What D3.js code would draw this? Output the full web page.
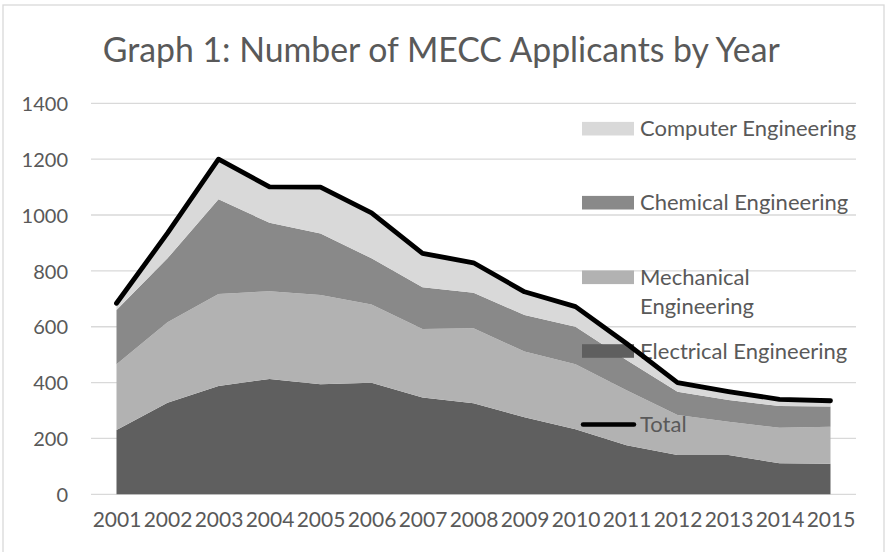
<!DOCTYPE html>
<html>
<head>
<meta charset="utf-8">
<script src="https://cdn.jsdelivr.net/npm/d3@7/dist/d3.min.js"></script>
<style>
  html, body { margin: 0; padding: 0; background: #fff; }
  svg { display: block; }
  text { font-family: Lato, "Open Sans", sans-serif; fill: #595959; }
</style>
</head>
<body>
<svg id="chart" width="887" height="552"></svg>
<script>
// ---- data ----
const years = ["2001","2002","2003","2004","2005","2006","2007","2008","2009","2010","2011","2012","2013","2014","2015"];
const electrical = [230, 328, 388, 413, 394, 399, 347, 326, 276, 233, 176, 141, 141, 111, 109];
const mechanical = [236, 288, 329, 314, 320, 281, 245, 269, 235, 233, 197, 143, 119, 127, 133];
const chemical   = [194, 229, 339, 245, 220, 165, 149, 127, 131, 134, 108,  83,  78,  78,  72];
const computer   = [ 24,  90, 144, 129, 166, 163, 122, 107,  83,  72,  59,  33,  30,  24,  21];
const total      = [684, 935, 1200, 1101, 1100, 1008, 863, 829, 725, 672, 540, 400, 368, 340, 335];
const yTicks = [0, 200, 400, 600, 800, 1000, 1200, 1400];
const seriesNames = ["Electrical Engineering", "Mechanical Engineering", "Chemical Engineering", "Computer Engineering"];
const seriesColors = ["#5f5f5f", "#b2b2b2", "#898989", "#d9d9d9"];
const titleText = "Graph 1: Number of MECC Applicants by Year";

// ---- layout ----
const W = 887, H = 552;
const plot = { left: 91, right: 856, top: 103.3, bottom: 494.3 };
const svg = d3.select("#chart");

svg.append("rect").attr("x", 0).attr("y", 0).attr("width", W).attr("height", H).attr("fill", "#fff");
svg.append("rect").attr("x", 3).attr("y", 5).attr("width", 881).attr("height", 600)
  .attr("fill", "none").attr("stroke", "#d9d9d9").attr("stroke-width", 1.3);

const x = d3.scalePoint().domain(years).range([plot.left, plot.right]).padding(0.5);
const y = d3.scaleLinear().domain([0, 1400]).range([plot.bottom, plot.top]);

// gridlines
svg.append("g").selectAll("line").data(yTicks).join("line")
  .attr("x1", plot.left).attr("x2", plot.right)
  .attr("y1", d => y(d)).attr("y2", d => y(d))
  .attr("stroke", "#d9d9d9").attr("stroke-width", 1.3);

// y axis labels
const yAxis = d3.axisLeft(y).tickValues(yTicks).tickSize(0).tickPadding(0).tickFormat(d3.format("d"));
const gy = svg.append("g").attr("transform", `translate(68,0)`).call(yAxis);
gy.select(".domain").remove();
gy.selectAll("text").style("font-size", "20px").attr("fill", "#595959").attr("dy", "0.36em");

// x axis labels
const xAxis = d3.axisBottom(x).tickSize(0).tickPadding(0);
const gx = svg.append("g").attr("transform", `translate(0,526.5)`).call(xAxis);
gx.select(".domain").remove();
gx.selectAll("text").style("font-size", "21px").attr("fill", "#595959").attr("dy", "0");

// stacked areas
const table = years.map((yr, i) => ({
  year: yr,
  [seriesNames[0]]: electrical[i],
  [seriesNames[1]]: mechanical[i],
  [seriesNames[2]]: chemical[i],
  [seriesNames[3]]: computer[i]
}));
const stacked = d3.stack().keys(seriesNames)(table);
const area = d3.area()
  .x(d => x(d.data.year))
  .y0(d => y(d[0]))
  .y1(d => y(d[1]));
svg.append("g").selectAll("path").data(stacked).join("path")
  .attr("d", area)
  .attr("fill", (d, i) => seriesColors[i]);

// legend
const legendItems = [
  { lines: ["Computer Engineering"], color: seriesColors[3], type: "box" },
  { lines: ["Chemical Engineering"], color: seriesColors[2], type: "box" },
  { lines: ["Mechanical", "Engineering"], color: seriesColors[1], type: "box" },
  { lines: ["Electrical Engineering"], color: seriesColors[0], type: "box" },
  { lines: ["Total"], color: "#000", type: "line" }
];
const legendY = [128.7, 202.7, 277.3, 351, 424.5];
const lg = svg.append("g");
legendItems.forEach((it, i) => {
  const cy = legendY[i];
  if (it.type === "box") {
    lg.append("rect").attr("x", 582).attr("y", cy - 6.8).attr("width", 52).attr("height", 13.6).attr("fill", it.color);
  } else {
    lg.append("line").attr("x1", 583).attr("x2", 634).attr("y1", cy).attr("y2", cy)
      .attr("stroke", it.color).attr("stroke-width", 4.5).attr("stroke-linecap", "round");
  }
  const t = lg.append("text").attr("x", 640).attr("y", cy + 7.6).style("font-size", "22px");
  it.lines.forEach((ln, j) => {
    t.append("tspan").attr("x", 640).attr("dy", j === 0 ? 0 : 28.7).text(ln);
  });
});

// total line
const line = d3.line().x((d, i) => x(years[i])).y(d => y(d));
svg.append("path").datum(total).attr("d", line)
  .attr("fill", "none").attr("stroke", "#000").attr("stroke-width", 4.8)
  .attr("stroke-linejoin", "round").attr("stroke-linecap", "round");

// title
svg.append("text").attr("x", 441.3).attr("y", 61.5).attr("text-anchor", "middle")
  .style("font-size", "34.5px").attr("textLength", 677).attr("lengthAdjust", "spacingAndGlyphs")
  .text(titleText);
</script>
</body>
</html>
